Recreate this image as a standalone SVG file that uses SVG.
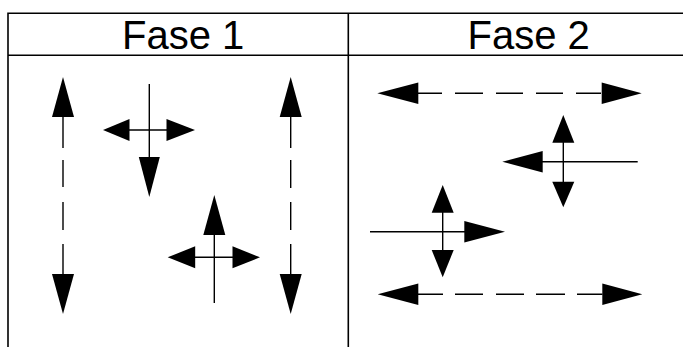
<svg xmlns="http://www.w3.org/2000/svg" width="683" height="347" viewBox="0 0 683 347">
<style>
.frame{stroke:#000;stroke-width:1.6;fill:none}
.ln{stroke:#000;stroke-width:1.4;fill:none}
.hd{fill:#000;stroke:none}
.t{font-family:"Liberation Sans",Arial,sans-serif;font-size:40px;fill:#000}
</style>
<rect width="683" height="347" fill="#fff"/>
<g id="table">
<path class="frame" d="M8,347 V13.3 H683 M8,55.3 H683 M348.3,13.3 V347"/>
<text id="h1" class="t" x="122" y="49">Fase 1</text>
<text id="h2" class="t" x="467.5" y="49">Fase 2</text>
</g>
<g id="connectors">
<g id="f1-left">
<line class="ln" x1="63" y1="117" x2="63" y2="274" stroke-dasharray="31 12 27 15 28 14 30"/>
<polygon class="hd" points="63,77 74,117 52,117"/>
<polygon class="hd" points="63,314 74,274 52,274"/>
</g>
<g id="f1-right">
<line class="ln" x1="290.7" y1="117" x2="290.7" y2="274" stroke-dasharray="31 12 28 14 28 14 30"/>
<polygon class="hd" points="290.7,77 301.7,117 279.7,117"/>
<polygon class="hd" points="290.7,314 301.7,274 279.7,274"/>
</g>
<g id="f1-cross1">
<line class="ln" x1="149.3" y1="84" x2="149.3" y2="158"/>
<line class="ln" x1="129" y1="130" x2="167" y2="130"/>
<polygon class="hd" points="149.3,197 159.8,157 138.8,157"/>
<polygon class="hd" points="103,130 129.5,119 129.5,141"/>
<polygon class="hd" points="195,130 166.5,119 166.5,141"/>
</g>
<g id="f1-cross2">
<line class="ln" x1="214.3" y1="234" x2="214.3" y2="303"/>
<line class="ln" x1="195" y1="257.3" x2="233" y2="257.3"/>
<polygon class="hd" points="214.3,195 225.3,235 203.3,235"/>
<polygon class="hd" points="167.7,257.3 195.2,246.3 195.2,268.3"/>
<polygon class="hd" points="260,257.3 232.5,246.3 232.5,268.3"/>
</g>
<g id="f2-top">
<line class="ln" x1="418" y1="93.3" x2="602" y2="93.3" stroke-dasharray="24 13 28 13 27 13 27 13 25"/>
<polygon class="hd" points="377.3,93.3 418.3,82.5 418.3,104.1"/>
<polygon class="hd" points="641.7,93.3 601.7,82.5 601.7,104.1"/>
</g>
<g id="f2-cross1">
<line class="ln" x1="563.3" y1="142" x2="563.3" y2="182"/>
<line class="ln" x1="542" y1="161.7" x2="637.7" y2="161.7"/>
<polygon class="hd" points="563.3,115 574.3,142.7 552.3,142.7"/>
<polygon class="hd" points="563.3,207.3 574.3,181.7 552.3,181.7"/>
<polygon class="hd" points="502.3,161.7 542.7,150.9 542.7,172.5"/>
</g>
<g id="f2-cross2">
<line class="ln" x1="442.7" y1="212" x2="442.7" y2="251"/>
<line class="ln" x1="370" y1="231.7" x2="465" y2="231.7"/>
<polygon class="hd" points="442.7,185 453.7,212.7 431.7,212.7"/>
<polygon class="hd" points="442.7,277.3 453.7,250 431.7,250"/>
<polygon class="hd" points="505,231.7 464.3,220.9 464.3,242.5"/>
</g>
<g id="f2-bottom">
<line class="ln" x1="418" y1="294.3" x2="602.5" y2="294.3" stroke-dasharray="25 12 28 13 28 12 29 12 26"/>
<polygon class="hd" points="377.7,294.3 418.3,283.5 418.3,305.1"/>
<polygon class="hd" points="642.3,294.3 602.3,283.5 602.3,305.1"/>
</g>
</g>
</svg>
